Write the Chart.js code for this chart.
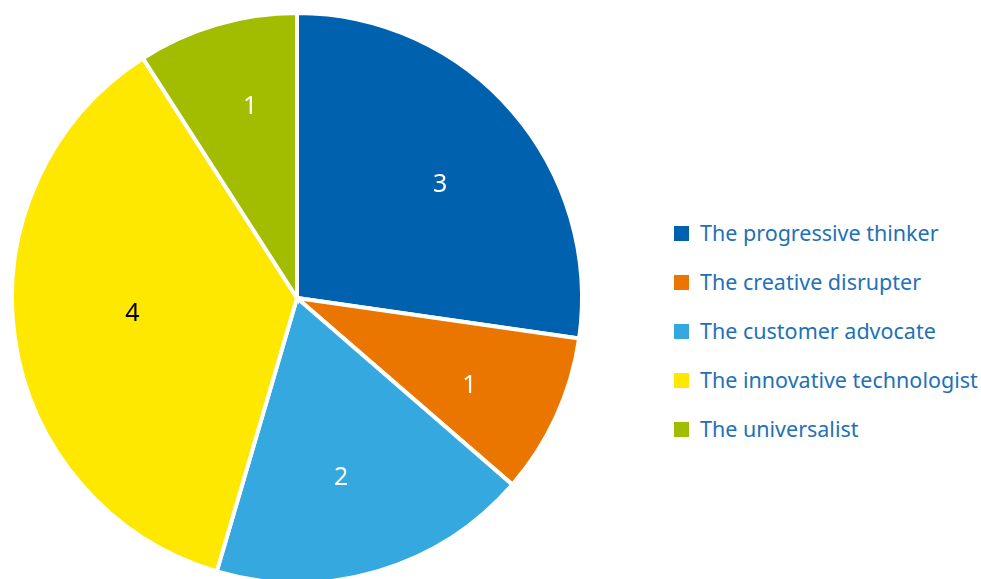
<!DOCTYPE html>
<html>
<head>
<meta charset="utf-8">
<script src="https://cdn.jsdelivr.net/npm/chart.js@4.4.1/dist/chart.umd.min.js"></script>
<style>
  html, body { margin: 0; padding: 0; background: #fff; }
  body { width: 981px; height: 579px; position: relative; overflow: hidden; font-family: 'Noto Sans', sans-serif; }
  #wrap { position: absolute; left: 0; top: 0; width: 594px; height: 579px; }
  #legend { position: absolute; left: 674px; top: 218px; margin: 0; padding: 0; list-style: none; }
  #legend li { height: 49px; display: flex; align-items: flex-start; color: #2271b8; font-size: 21.5px; line-height: 30px; white-space: nowrap; }
  #legend span.box { display: inline-block; width: 15px; height: 15px; margin: 8px 11px 0 0; }
</style>
</head>
<body>
<div id="wrap"><canvas id="chart"></canvas></div>
<ul id="legend"></ul>
<script>
// Daten
const categories = ['The progressive thinker', 'The creative disrupter', 'The customer advocate', 'The innovative technologist', 'The universalist'];
const counts = [3, 1, 2, 4, 1];
const sliceColors = ['#0061ae', '#ea7600', '#35a8e0', '#ffe800', '#a2bd00'];
const labelColors = ['#ffffff', '#ffffff', '#ffffff', '#000000', '#ffffff'];
// Abstand der Beschriftung vom Mittelpunkt (Anteil am Radius)
const labelRadius = [0.64, 0.68, 0.65, 0.58, 0.69];

// Zahlen in die Segmente schreiben
const sliceLabels = {
    id: 'sliceLabels',
    afterDatasetsDraw(chart) {
        const ctx = chart.ctx;
        const meta = chart.getDatasetMeta(0);
        ctx.save();
        ctx.font = '25px "Noto Sans", sans-serif';
        ctx.textAlign = 'center';
        ctx.textBaseline = 'middle';
        meta.data.forEach((arc, i) => {
            const p = arc.getProps(['x', 'y', 'startAngle', 'endAngle', 'outerRadius']);
            const mid = (p.startAngle + p.endAngle) / 2 + 0.045;
            const r = p.outerRadius * labelRadius[i];
            ctx.fillStyle = labelColors[i];
            ctx.fillText(String(counts[i]), p.x + Math.cos(mid) * r, p.y + Math.sin(mid) * r);
        });
        ctx.restore();
    }
};

const canvas = document.getElementById('chart');
new Chart(canvas.getContext('2d'), {
    type: 'pie',
    data: {
        labels: categories,
        datasets: [{
            data: counts,
            backgroundColor: sliceColors,
            borderColor: '#ffffff',
            borderWidth: 4,
            borderJoinStyle: 'miter'
        }]
    },
    options: {
        responsive: true,
        maintainAspectRatio: false,
        animation: false,
        radius: 285,
        layout: { padding: { top: 17, bottom: 0, left: 0, right: 0 } },
        plugins: {
            legend: { display: false },
            tooltip: { enabled: false }
        }
    },
    plugins: [sliceLabels]
});

// HTML-Legende
const legend = document.getElementById('legend');
categories.forEach((name, i) => {
    const li = document.createElement('li');
    li.innerHTML = '<span class="box" style="background:' + sliceColors[i] + '"></span>' + name;
    legend.appendChild(li);
});
</script>
</body>
</html>
